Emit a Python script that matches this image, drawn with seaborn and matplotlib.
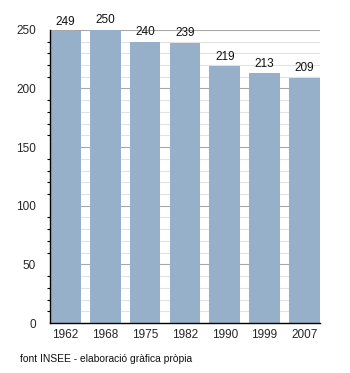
import matplotlib
matplotlib.use("Agg")
import matplotlib.pyplot as plt
from matplotlib.ticker import MultipleLocator
import seaborn as sns
import pandas as pd

years = ["1962", "1968", "1975", "1982", "1990", "1999", "2007"]
population = [249, 250, 240, 239, 219, 213, 209]

df = pd.DataFrame({"year": years, "population": population})

sns.set_style("white")
plt.rcParams["font.family"] = ["Liberation Sans", "DejaVu Sans"]

fig = plt.figure(figsize=(3.5, 3.73), dpi=100)
ax = fig.add_axes([0.143, 0.134, 0.771, 0.786])

sns.barplot(data=df, x="year", y="population", color="#97b0c9",
            saturation=1, width=0.77, linewidth=0, edgecolor="none", ax=ax)
for bar in ax.patches:
    bar.set_zorder(3)

ax.set_ylim(0, 250)
ax.set_xlim(-0.39, len(years) - 1 + 0.39)
ax.yaxis.set_major_locator(MultipleLocator(50))
ax.yaxis.set_minor_locator(MultipleLocator(10))
ax.set_axisbelow(True)
ax.grid(which="major", axis="y", color="#a8a8a8", linewidth=0.8)
ax.grid(which="minor", axis="y", color="#e2e2e2", linewidth=0.8)

for s in ("top", "right"):
    ax.spines[s].set_visible(False)
for s in ("left", "bottom"):
    ax.spines[s].set_color("black")
    ax.spines[s].set_linewidth(1.0)
    ax.spines[s].set_zorder(4)

ax.tick_params(axis="y", which="major", direction="out", length=4, width=0.8,
               color="black", labelsize=8.5, pad=6)
ax.tick_params(axis="y", which="minor", direction="out", length=2.5, width=0.8,
               color="black", left=True)
ax.tick_params(axis="x", which="both", length=0, labelsize=8.5, pad=4)
ax.set_xlabel("")
ax.set_ylabel("")

for i, v in enumerate(population):
    ax.annotate(str(v), xy=(i, v), xytext=(0, 2.5), textcoords="offset points",
                ha="center", va="bottom", fontsize=8.5, color="#111111",
                zorder=5, annotation_clip=False)

fig.text(0.057, 0.03, "font INSEE - elaboració gràfica pròpia",
         fontsize=7.4, color="#111111", ha="left", va="baseline")

fig.savefig("out.png", dpi=100)
